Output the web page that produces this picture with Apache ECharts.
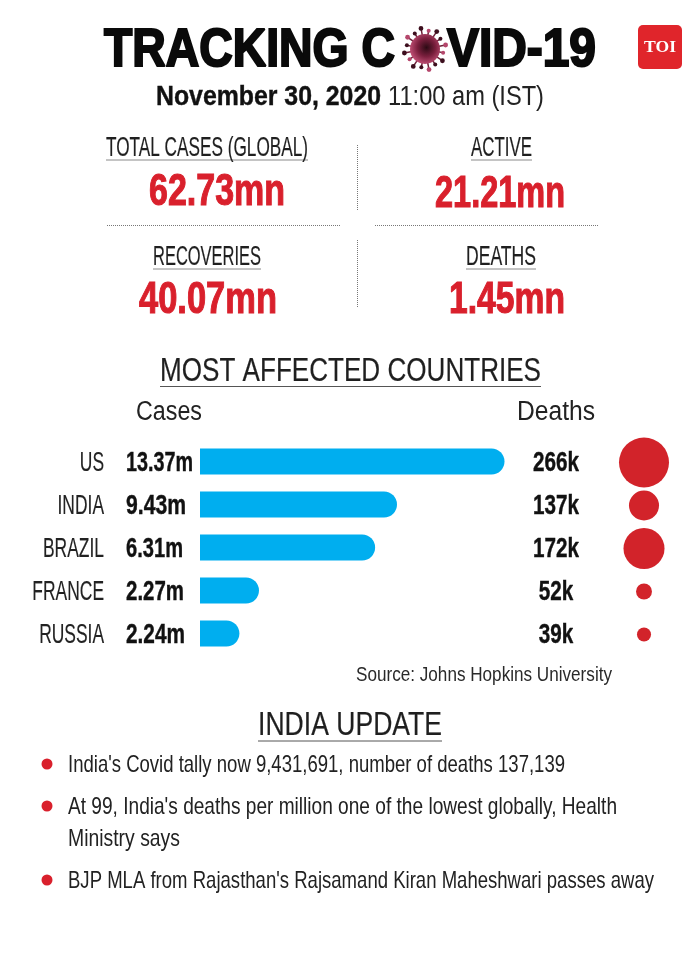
<!DOCTYPE html>
<html>
<head>
<meta charset="utf-8">
<style>
  html, body { margin: 0; padding: 0; background: #fff; }
  #main { width: 700px; height: 956px; }
</style>
<script src="https://cdn.jsdelivr.net/npm/echarts@6/dist/echarts.min.js"></script>
</head>
<body>
<div id="main"></div>
<script>
var countries = ['US', 'INDIA', 'BRAZIL', 'FRANCE', 'RUSSIA'];
var casesText = ['13.37m', '9.43m', '6.31m', '2.27m', '2.24m'];
var deathsText = ['266k', '137k', '172k', '52k', '39k'];
// the bars and bubbles in the picture do not follow the printed figures exactly,
// so these two are read off the drawn lengths / areas
var caseBars = [13.37, 8.65, 7.69, 2.59, 1.73];
var deathBubbles = [266, 96, 179, 27, 21];

var statLabels = ['TOTAL CASES (GLOBAL)', 'ACTIVE', 'RECOVERIES', 'DEATHS'];
var statValues = ['62.73mn', '21.21mn', '40.07mn', '1.45mn'];
var updates = [
  "India's Covid tally now 9,431,691, number of deaths 137,139",
  "At 99, India's deaths per million one of the lowest globally, Health",
  "Ministry says",
  "BJP MLA from Rajasthan's Rajsamand Kiran Maheshwari passes away"
];

var NARROW = '"Liberation Sans Narrow", "Liberation Sans", sans-serif';
var WIDE = '"Liberation Sans", sans-serif';
var RED = '#d9202c';

var measureCtx = document.createElement('canvas').getContext('2d');
function measure(str, size, weight, family) {
  measureCtx.font = (weight || 'normal') + ' ' + size + 'px ' + family;
  return measureCtx.measureText(str).width;
}

// text squeezed to a target width, x is the left edge
function txt(str, x, y, width, size, o) {
  o = o || {};
  var family = o.family || NARROW;
  var weight = o.weight || 'normal';
  var sx = width / measure(str, size, weight, family);
  return {
    type: 'text', silent: true, x: x, y: y + 1.5, scaleX: sx, z: 10,
    style: {
      text: str, x: 0, y: 0, fill: o.color || '#1a1a1a',
      fontSize: size, fontWeight: weight, fontFamily: family,
      align: 'left', verticalAlign: 'middle',
      stroke: o.stroke ? (o.color || '#1a1a1a') : null,
      lineWidth: o.stroke || 0
    }
  };
}
function rule(x1, y1, x2, y2, color, w, dash) {
  return {
    type: 'line', silent: true, z: 5,
    shape: { x1: x1, y1: y1, x2: x2, y2: y2 },
    style: { stroke: color, lineWidth: w, lineDash: dash || null }
  };
}

function virus(cx, cy) {
  var out = [];
  for (var i = 0; i < 16; i++) {
    var a = i / 16 * Math.PI * 2 + 0.2;
    var len = i % 2 ? 21 : 18.5;
    out.push(rule(cx + Math.cos(a) * 12, cy + Math.sin(a) * 12, cx + Math.cos(a) * len, cy + Math.sin(a) * len, '#6d2138', 1.5));
    out.push({
      type: 'circle', silent: true, z: 6,
      shape: { cx: cx + Math.cos(a) * len, cy: cy + Math.sin(a) * len, r: i % 2 ? 2.4 : 2 },
      style: { fill: i % 3 ? '#3d0f1e' : '#b5476c' }
    });
  }
  out.push({
    type: 'circle', silent: true, z: 7,
    shape: { cx: cx, cy: cy, r: 15 },
    style: {
      fill: new echarts.graphic.RadialGradient(0.55, 0.45, 0.6, [
        { offset: 0, color: '#2c0a14' },
        { offset: 0.5, color: '#7a1f3d' },
        { offset: 1, color: '#c9567c' }
      ])
    }
  });
  return out;
}

var myChart = echarts.init(document.getElementById('main'));

var option = {
  backgroundColor: '#fff',
  animation: false,
  grid: [
    { left: 200, top: 440, width: 304.5, height: 215 },
    { left: 619, top: 441, width: 50, height: 215 }
  ],
  xAxis: [
    { gridIndex: 0, type: 'value', min: 0, max: 13.37, show: false },
    { gridIndex: 1, type: 'value', min: -1, max: 1, show: false }
  ],
  yAxis: [
    { gridIndex: 0, type: 'category', inverse: true, data: countries, show: false },
    { gridIndex: 1, type: 'category', inverse: true, data: countries, show: false }
  ],
  series: [
    {
      name: 'Cases', type: 'bar', xAxisIndex: 0, yAxisIndex: 0,
      data: caseBars, barWidth: 26,
      itemStyle: { color: '#00aeef', borderRadius: [0, 13, 13, 0] }
    },
    {
      name: 'Deaths', type: 'scatter', xAxisIndex: 1, yAxisIndex: 1,
      data: deathBubbles.map(function (v, i) { return [0, countries[i], v]; }),
      symbol: 'circle',
      symbolSize: function (d) { return 50 * Math.sqrt(d[2] / 266); },
      itemStyle: { color: '#d2232a', opacity: 1 }
    }
  ]
};
myChart.setOption(option);

// fixed copy around the chart
var g = [];
g.push(txt('TRACKING C', 104, 50, 291, 54, { family: WIDE, weight: 'bold', color: '#0a0a0a', stroke: 2.2 }));
g.push(txt('VID-19', 447, 50, 149, 54, { family: WIDE, weight: 'bold', color: '#0a0a0a', stroke: 2.2 }));
g = g.concat(virus(425, 49));

g.push({
  type: 'rect', silent: true, z: 5,
  shape: { x: 638, y: 25, width: 44, height: 44, r: 5 },
  style: { fill: '#e0252b' }
});
g.push(txt('TOI', 644, 46.5, 32, 17, { family: '"Liberation Serif", serif', weight: 'bold', color: '#fff' }));

g.push(txt('November 30, 2020', 156, 96, 225, 27, { weight: 'bold', color: '#111', stroke: 0.4 }));
g.push(txt('11:00 am (IST)', 388, 96, 156, 27, { color: '#222' }));

var statBox = [
  { lx: 106, lw: 202, ly: 148, vx: 149, vw: 136, vy: 191 },
  { lx: 471, lw: 61, ly: 148, vx: 435, vw: 130, vy: 193 },
  { lx: 153, lw: 108, ly: 257, vx: 139, vw: 138, vy: 299 },
  { lx: 466, lw: 70, ly: 257, vx: 449, vw: 116, vy: 299 }
];
statBox.forEach(function (b, i) {
  g.push(txt(statLabels[i], b.lx, b.ly - 1, b.lw, 27, { color: '#1f1f1f', stroke: 0.2 }));
  g.push(rule(b.lx, b.ly + 12, b.lx + b.lw, b.ly + 12, '#8a8a8a', 1));
  g.push(txt(statValues[i], b.vx, b.vy, b.vw, 44, { family: WIDE, weight: 'bold', color: RED, stroke: 1.1 }));
});

g.push(rule(107, 225.5, 341, 225.5, '#777', 1, [1, 1]));
g.push(rule(375, 225.5, 598, 225.5, '#777', 1, [1, 1]));
g.push(rule(357.5, 145, 357.5, 210, '#777', 1, [1, 1]));
g.push(rule(357.5, 240, 357.5, 307, '#777', 1, [1, 1]));

g.push(txt('MOST AFFECTED COUNTRIES', 160, 370, 381, 33, { color: '#1f1f1f', stroke: 0.2 }));
g.push(rule(160, 386.5, 541, 386.5, '#555', 1));
g.push(txt('Cases', 136, 411, 66, 27, { color: '#222' }));
g.push(txt('Deaths', 517, 411, 78, 27, { color: '#222' }));

// row labels sit on the category axis positions
var caseWidths = [67, 60, 57, 58, 59];
var countryScale = 61 / measure('BRAZIL', 27, 'normal', NARROW);
var deathScale = 46 / measure('266k', 27, 'bold', NARROW);
countries.forEach(function (c, i) {
  var y = myChart.convertToPixel({ yAxisIndex: 0 }, c) + 0.5;
  var w = measure(c, 27, 'normal', NARROW) * countryScale;
  g.push(txt(c, 104 - w, y, w, 27, { color: '#222', stroke: 0.15 }));
  g.push(txt(casesText[i], 126, y, caseWidths[i], 27, { weight: 'bold', color: '#111', stroke: 0.4 }));
  w = measure(deathsText[i], 27, 'bold', NARROW) * deathScale;
  g.push(txt(deathsText[i], 556 - w / 2, y, w, 27, { weight: 'bold', color: '#111', stroke: 0.4 }));
});

g.push(txt('Source: Johns Hopkins University', 356, 673.5, 256, 21, { color: '#2a2a2a' }));

g.push(txt('INDIA UPDATE', 258, 724, 184, 33, { color: '#1f1f1f', stroke: 0.2 }));
g.push(rule(258, 741, 442, 741, '#555', 1));

var lineY = [764, 806, 838, 880];
var lineW = [497, 549, 112, 586];
updates.forEach(function (line, i) {
  g.push(txt(line, 68, lineY[i], lineW[i], 24, { color: '#222' }));
  if (i !== 2) {
    g.push({
      type: 'circle', silent: true, z: 5,
      shape: { cx: 47, cy: lineY[i], r: 5.5 },
      style: { fill: '#d9202c' }
    });
  }
});

myChart.setOption({ graphic: { elements: g } });
</script>
</body>
</html>
